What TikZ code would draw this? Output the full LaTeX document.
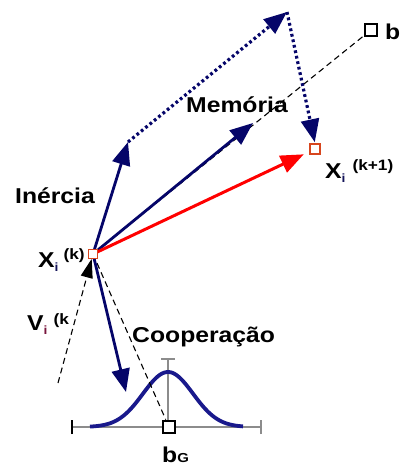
\documentclass[tikz,border=0pt]{standalone}
\usepackage{fontspec}
\setmainfont[FakeStretch=1.15]{Liberation Sans}
\usetikzlibrary{arrows.meta}
\definecolor{navy}{RGB}{5,5,105}
\definecolor{curveblue}{RGB}{25,25,140}
\definecolor{mkred}{RGB}{215,70,30}
\definecolor{axisgray}{RGB}{140,140,140}
\definecolor{subred}{RGB}{120,20,60}
\definecolor{subblue}{RGB}{20,20,90}
\begin{document}
\begin{tikzpicture}[x=1pt,y=-1pt,
  vec/.style={line width=2.8pt, navy, -{Triangle[length=23pt,width=18pt]}},
  redvec/.style={line width=3pt, red, -{Triangle[length=23pt,width=18pt]}},
  dots/.style={line width=3.2pt, navy, dash pattern=on 2.8pt off 2.8pt, -{Triangle[length=23pt,width=18pt]}},
  guide/.style={black, line width=1.1pt, dash pattern=on 6pt off 4pt},
  guidearrow/.style={guide, -{Triangle[length=19pt,width=12pt]}},
  lbl/.style={font=\fontsize{21.5}{25}\selectfont\bfseries, inner sep=0pt},
  redmark/.style={draw=mkred, line width=1.6pt, fill=white, minimum size=10pt, inner sep=0pt},
  blackmark/.style={draw=black, line width=2.8pt, fill=white, minimum size=12pt, inner sep=0pt},
  axis/.style={axisgray, line width=1.4pt}
]
\useasboundingbox (0,0) rectangle (400,468);

% coordinates
\coordinate (xk) at (93,254);
\coordinate (inTip) at (128,142);
\coordinate (top) at (287,12);
\coordinate (memTip) at (253,123);
\coordinate (coopTip) at (126,392);
\coordinate (vStart) at (58,383);
\coordinate (axL) at (72,427);
\coordinate (axR) at (261,427);
\coordinate (axB) at (168,427);
\coordinate (axT) at (168,359);

% gaussian axes
\draw[axis] (axL) -- (axR);
\draw[black, line width=1.2pt] ([yshift=-7pt]axL) -- ([yshift=7pt]axL);
\draw[axis] ([yshift=-7pt]axR) -- ([yshift=7pt]axR);
\draw[axis] (axB) -- (axT);
\draw[axis] ([xshift=-7pt]axT) -- ([xshift=7pt]axT);
\draw[curveblue, line width=3.8pt, domain=90:243, samples=90]
  plot (\x, {427-55*exp(-((\x-168)^2)/1250)});

% markers
\node[blackmark] (b) at (371,30) {};
\node[blackmark] (bG) at (169,427) {};
\node[redmark] (xk1) at (315,149) {};

% dashed guides
\draw[guide] (xk) -- (b);
\draw[guide] (xk) -- (bG);
\draw[guidearrow, shorten >=5pt] (vStart) -- (xk);

% vectors
\draw[vec] (xk) -- (inTip);
\draw[vec] (xk) -- (memTip);
\draw[vec] (xk) -- (coopTip);
\draw[dots] (inTip) -- (top);
\draw[dots, shorten >=1pt] (top) -- (xk1.north);
\draw[redvec, shorten >=6pt] (xk) -- (xk1);

\node[redmark, minimum size=9pt] (xkmark) at (xk) {};
\node[blackmark] at (b) {};
\node[blackmark] at (bG) {};
\node[redmark] at (xk1) {};

% labels
\node[lbl, anchor=base] (lmem) at (237,113) {Memória};
\node[lbl, anchor=base] (lin) at (55,203) {Inércia};
\node[lbl, anchor=base west] (lcoop) at (132,342) {Cooperação};
\node[lbl, anchor=base west] (lb) at (385,40) {b};
\node[lbl, anchor=base west] (lbg) at (162,462) {b\raisebox{0pt}{\fontsize{13}{13}\selectfont G}};
\node[lbl, anchor=base west] (lxk) at (38,267) {X\raisebox{-4pt}{\fontsize{12}{12}\selectfont\color{subblue} i}\hspace{5pt}\raisebox{8pt}{\fontsize{15}{15}\selectfont (k)}};
\node[lbl, anchor=base west] (lxk1) at (325,178) {X\raisebox{-4pt}{\fontsize{12}{12}\selectfont\color{subblue} i}\hspace{7pt}\raisebox{8pt}{\fontsize{15}{15}\selectfont (k+1)}};
\node[lbl, anchor=base west] (lv) at (27,330) {V\raisebox{-4pt}{\fontsize{12}{12}\selectfont\color{subred} i}\hspace{6pt}\raisebox{6pt}{\fontsize{15}{15}\selectfont (k}};
\end{tikzpicture}
\end{document}
